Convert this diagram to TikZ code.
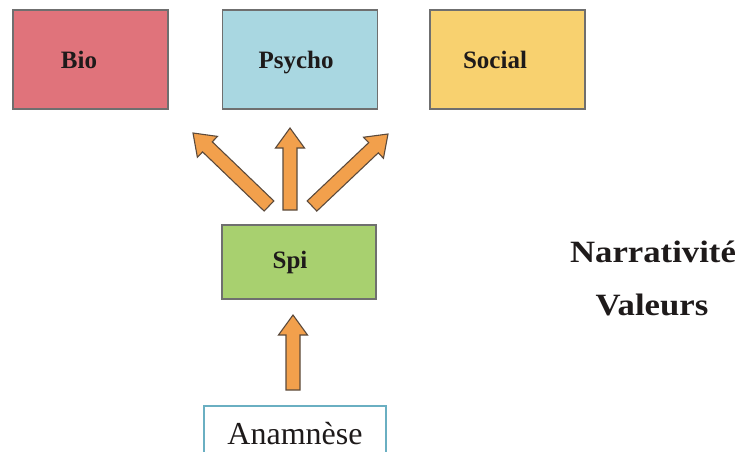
\documentclass[tikz,border=0pt]{standalone}
\usepackage{fontspec}
\setmainfont{Liberation Serif}
\newfontfamily\widebold[FakeStretch=1.12]{Liberation Serif Bold}
\usetikzlibrary{calc}
\definecolor{biofill}{HTML}{E0737B}
\definecolor{psyfill}{HTML}{A9D7E1}
\definecolor{socfill}{HTML}{F8D16F}
\definecolor{spifill}{HTML}{A8D06F}
\definecolor{boxline}{HTML}{6F6F6F}
\definecolor{anaborder}{HTML}{6AAFC2}
\definecolor{arrfill}{HTML}{F2A04C}
\definecolor{arrline}{HTML}{5B4A3C}
\definecolor{txt}{HTML}{1E1A1A}
\tikzset{
  catbox/.style={draw=boxline, line width=1.2pt, rectangle, inner sep=0pt,
    minimum width=155pt, minimum height=99pt},
  boxlabel/.style={anchor=base, inner sep=0pt, text=txt, font=\bfseries\fontsize{25}{30}\selectfont},
  sidelabel/.style={anchor=base, inner sep=0pt, text=txt, font=\widebold\fontsize{31}{36}\selectfont},
  arrowstyle/.style={fill=arrfill, draw=arrline, line width=1.1pt, line join=miter}
}
\newcommand\blockarrow[2]{%
  \coordinate (bahb) at ($(#2)!20pt!(#1)$);
  \draw[arrowstyle] ($(#1)!7pt!90:(#2)$) -- ($(bahb)!7pt!90:(#2)$) -- ($(bahb)!14.5pt!90:(#2)$) -- (#2)
    -- ($(bahb)!14.5pt!-90:(#2)$) -- ($(bahb)!7pt!-90:(#2)$) -- ($(#1)!7pt!-90:(#2)$) -- cycle;}
\begin{document}
\begin{tikzpicture}[x=1pt,y=-1pt]
\useasboundingbox (0,0) rectangle (744,452);
\clip (0,0) rectangle (744,452);
% boxes
\node[catbox, fill=biofill] (bio) at (90.5,59.5) {};
\node[catbox, fill=psyfill] (psycho) at (300,59.5) {};
\node[catbox, fill=socfill] (social) at (507.5,59.5) {};
\node[catbox, fill=spifill, minimum width=154pt, minimum height=74pt] (spi) at (299,262) {};
\node[draw=anaborder, line width=1.2pt, fill=white, rectangle, inner sep=0pt,
      minimum width=182pt, minimum height=60pt] (ana) at (295,436) {};
% labels
\node[boxlabel] (biotxt) at (79,68) {Bio};
\node[boxlabel] (psytxt) at (296,68) {Psycho};
\node[boxlabel] (soctxt) at (495,69) {Social};
\node[boxlabel] (spitxt) at (290,268) {Spi};
\node[anchor=base, inner sep=0pt, text=txt, font=\fontsize{32}{38}\selectfont] (anatxt) at (295,444) {Anamnèse};
\node[sidelabel] (narr) at (653,262) {Narrativité};
\node[sidelabel] (val) at (652,315) {Valeurs};
% arrows
\coordinate (lS) at (269,206);
\coordinate (lE) at (193,133);
\coordinate (mS) at (290,210);
\coordinate (mE) at (290,128);
\coordinate (rS) at (312,206);
\coordinate (rE) at (388,134);
\coordinate (sS) at (293,390);
\coordinate (sE) at (293,315);
\blockarrow{lS}{lE}
\blockarrow{mS}{mE}
\blockarrow{rS}{rE}
\blockarrow{sS}{sE}
\end{tikzpicture}
\end{document}
